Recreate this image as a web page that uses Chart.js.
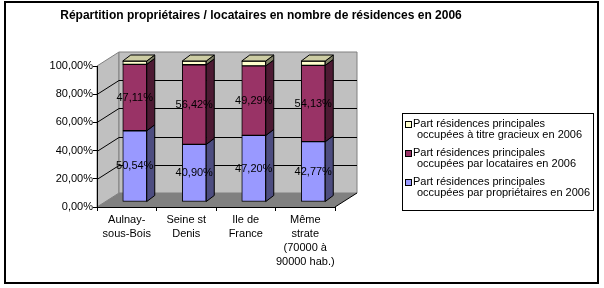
<!DOCTYPE html>
<html><head><meta charset="utf-8">
<script src="https://cdn.jsdelivr.net/npm/chart.js@4/dist/chart.umd.min.js"></script>
<style>html,body{margin:0;padding:0;background:#fff}#wrap{width:604px;height:288px}</style>
</head><body><div id="wrap"><canvas id="c" width="604" height="288"></canvas></div>
<script>
const chartTitle = 'Répartition propriétaires / locataires en nombre de résidences en 2006';
const categories = [['Aulnay-','sous-Bois'],['Seine st','Denis'],['Ile de','France'],['Même','strate','(70000 à','90000 hab.)']];
const proprietaires = [50.54, 40.90, 47.20, 42.77];
const locataires = [47.11, 56.42, 49.29, 54.13];
const gracieux = [2.35, 2.68, 3.51, 3.10];
const seriesNames = [
  ['Part résidences principales','occupées par propriétaires en 2006'],
  ['Part résidences principales','occupées par locataires en 2006'],
  ['Part résidences principales','occupées à titre gracieux en 2006']
];
const yTickValues = [0, 20, 40, 60, 80, 100];

const FONT = 'Arial, "Liberation Sans", sans-serif';
const WALL = {dx: 22, dy: -14};
const BAR_OFF = {dx: 8, dy: -5};
const BAR_D = {dx: 8, dy: -6};
const fmt = v => v.toFixed(2).replace('.', ',') + '%';

function poly(ctx, pts, fill, stroke) {
  ctx.beginPath();
  ctx.moveTo(pts[0][0], pts[0][1]);
  for (let i = 1; i < pts.length; i++) ctx.lineTo(pts[i][0], pts[i][1]);
  ctx.closePath();
  if (fill) { ctx.fillStyle = fill; ctx.fill(); }
  if (stroke) { ctx.strokeStyle = stroke; ctx.lineWidth = 1; ctx.stroke(); }
}

const plugin3d = {
  id: 'fake3d',
  beforeDraw(chart) {
    const ctx = chart.ctx;
    const {left, right, top, bottom} = chart.chartArea;
    const y = chart.scales.y;
    ctx.save();
    ctx.fillStyle = '#fff';
    ctx.fillRect(0, 0, chart.width, chart.height);
    ctx.strokeStyle = '#000'; ctx.lineWidth = 2;
    ctx.strokeRect(5, 2, 593, 281);
    ctx.fillStyle = '#000';
    ctx.font = 'bold 12px ' + FONT;
    ctx.textAlign = 'center'; ctx.textBaseline = 'middle';
    ctx.fillText(chartTitle, 261, 16);
    // walls and floor
    poly(ctx, [[left, bottom], [left, top], [left + WALL.dx, top + WALL.dy], [left + WALL.dx, bottom + WALL.dy]], '#c0c0c0', '#808080');
    poly(ctx, [[left + WALL.dx, top + WALL.dy], [right + WALL.dx, top + WALL.dy], [right + WALL.dx, bottom + WALL.dy], [left + WALL.dx, bottom + WALL.dy]], '#c0c0c0', '#808080');
    poly(ctx, [[left, bottom], [right, bottom], [right + WALL.dx, bottom + WALL.dy], [left + WALL.dx, bottom + WALL.dy]], '#808080', null);
    ctx.strokeStyle = '#000'; ctx.lineWidth = 1;
    yTickValues.forEach(v => {
      if (v === 0 || v === 100) return;
      const py = Math.round(y.getPixelForValue(v)) + 0.5;
      ctx.beginPath();
      ctx.moveTo(left, py);
      ctx.lineTo(left + WALL.dx, py + WALL.dy);
      ctx.lineTo(right + WALL.dx, py + WALL.dy);
      ctx.stroke();
    });
    ctx.beginPath();
    ctx.moveTo(right, bottom);
    ctx.lineTo(right + WALL.dx, bottom + WALL.dy);
    ctx.stroke();
    ctx.restore();
  },
  beforeDatasetsDraw(chart) {
    chart.ctx.save();
    chart.ctx.translate(BAR_OFF.dx, BAR_OFF.dy);
  },
  afterDatasetsDraw(chart) {
    const ctx = chart.ctx;
    const n = chart.data.datasets.length;
    chart.data.datasets.forEach((ds, i) => {
      const meta = chart.getDatasetMeta(i);
      meta.data.forEach(bar => {
        const p = bar.getProps(['x', 'y', 'base', 'width'], true);
        const x1 = p.x - p.width / 2, x2 = p.x + p.width / 2;
        const yt = Math.min(p.y, p.base), yb = Math.max(p.y, p.base);
        poly(ctx, [[x2, yb], [x2, yt], [x2 + BAR_D.dx, yt + BAR_D.dy], [x2 + BAR_D.dx, yb + BAR_D.dy]], ds.sideColor, '#000');
        if (i === n - 1) {
          poly(ctx, [[x1, yt], [x2, yt], [x2 + BAR_D.dx, yt + BAR_D.dy], [x1 + BAR_D.dx, yt + BAR_D.dy]], ds.topColor, '#000');
        }
      });
    });
    ctx.restore();
    // value labels
    ctx.save();
    ctx.font = '11px ' + FONT;
    ctx.fillStyle = '#000';
    ctx.textAlign = 'center'; ctx.textBaseline = 'middle';
    chart.data.datasets.forEach((ds, i) => {
      if (!ds.showValues) return;
      chart.getDatasetMeta(i).data.forEach((bar, j) => {
        const p = bar.getProps(['x', 'y', 'base'], true);
        ctx.fillText(fmt(ds.data[j]), p.x + BAR_OFF.dx, (p.y + p.base) / 2 + BAR_OFF.dy);
      });
    });
    ctx.restore();
  },
  afterDraw(chart) {
    const ctx = chart.ctx;
    ctx.save();
    const bx = 402, by = 113, bw = 191, bh = 97;
    ctx.fillStyle = '#fff';
    ctx.fillRect(bx, by, bw, bh);
    ctx.strokeStyle = '#000'; ctx.lineWidth = 1;
    ctx.strokeRect(bx + 0.5, by + 0.5, bw, bh);
    ctx.font = '11px ' + FONT;
    ctx.textBaseline = 'middle'; ctx.textAlign = 'left';
    const order = [2, 1, 0];
    order.forEach((di, k) => {
      const ds = chart.data.datasets[di];
      const y0 = by + 11 + k * 29;
      ctx.fillStyle = ds.backgroundColor;
      ctx.fillRect(bx + 3, y0 - 3, 7, 7);
      ctx.strokeStyle = '#000';
      ctx.strokeRect(bx + 3.5, y0 - 2.5, 6, 6);
      ctx.fillStyle = '#000';
      ctx.fillText(ds.label[0], bx + 11, y0);
      ctx.fillText(ds.label[1], bx + 15, y0 + 11);
    });
    ctx.restore();
  }
};

new Chart(document.getElementById('c'), {
  type: 'bar',
  data: {
    labels: categories,
    datasets: [
      {label: seriesNames[0], data: proprietaires, backgroundColor: '#9999ff', sideColor: '#4d4d80', topColor: '#7a7acc', showValues: true},
      {label: seriesNames[1], data: locataires, backgroundColor: '#993366', sideColor: '#4d1a33', topColor: '#7a2952', showValues: true},
      {label: seriesNames[2], data: gracieux, backgroundColor: '#ffffcc', sideColor: '#808066', topColor: '#cccca3', showValues: false}
    ].map(d => Object.assign(d, {borderColor: '#000', borderWidth: 1, borderSkipped: false, barThickness: 24, clip: false}))
  },
  options: {
    responsive: false,
    animation: false,
    devicePixelRatio: 1,
    layout: {padding: {left: 0, top: 66, right: 269, bottom: 6}},
    plugins: {legend: {display: false}, title: {display: false}, tooltip: {enabled: false}},
    scales: {
      x: {
        stacked: true,
        grid: {offset: true, drawOnChartArea: false, tickLength: 4, color: '#000'},
        border: {color: '#000'},
        ticks: {color: '#000', font: {family: FONT, size: 11, lineHeight: 1.27}, maxRotation: 0, autoSkip: false, padding: 2},
        afterFit: s => { s.height = 75; }
      },
      y: {
        stacked: true,
        min: 0, max: 100,
        grid: {drawOnChartArea: false, tickLength: 4, color: '#000'},
        border: {color: '#000'},
        ticks: {stepSize: 20, color: '#000', font: {family: FONT, size: 11}, padding: 0, callback: v => fmt(v)},
        afterFit: s => { s.width = 97; }
      }
    }
  },
  plugins: [plugin3d]
});
</script>
</body></html>
